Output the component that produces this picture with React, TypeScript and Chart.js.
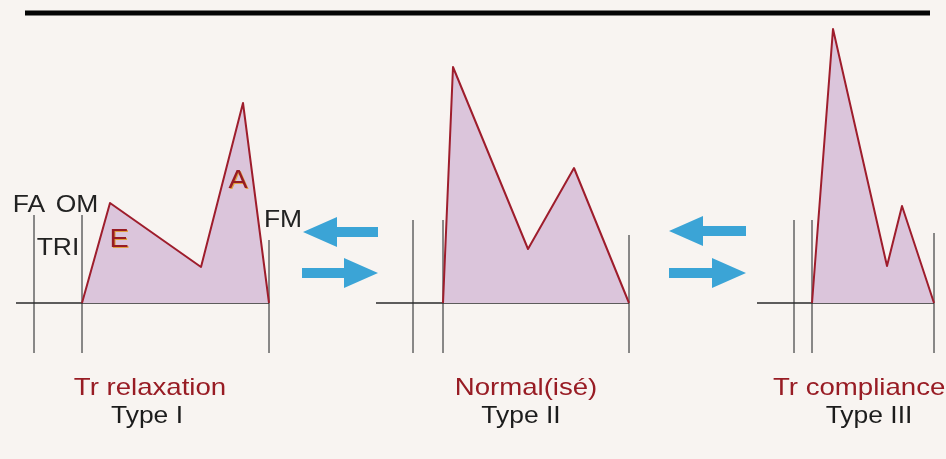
import React, { useEffect, useRef } from "react";
import { Chart, registerables } from "chart.js";

Chart.register(...registerables);

// ---- Data (time in arbitrary units, velocity in arbitrary units) ----
const TYPE1_T = [82, 110, 201, 243, 269];
const TYPE1_V = [0, 100, 36, 200, 0];
const TYPE2_T = [443, 453, 528, 574, 629];
const TYPE2_V = [0, 236, 54, 135, 0];
const TYPE3_T = [812, 833, 887, 902, 934];
const TYPE3_V = [0, 274, 37, 97, 0];

const BASELINE_START = [16, 376, 757];
const BASELINE_END = [269, 629, 934];

const MARKER_T = [34, 82, 269, 413, 443, 629, 794, 812, 934];
const MARKER_TOP = [88, 88, 63, 83, 83, 68, 83, 83, 70];
const MARKER_BOTTOM = -50;

const TOP_RULE_T = [25, 930];
const TOP_RULE_V = 290;

const PATTERN_NAMES = ["Tr relaxation", "Normal(isé)", "Tr compliance"];
const TYPE_NAMES = ["Type I", "Type II", "Type III"];
const EVENT_LABELS = ["FA", "OM", "TRI", "FM"];
const WAVE_LABELS = ["E", "A"];

// arrows: tail -> tip
const ARROW_TAIL = [378, 302, 746, 669];
const ARROW_TIP = [303, 378, 669, 746];
const ARROW_V = [71, 30, 72, 30];

// ---- Styling / layout config ----
const RED = "#981c24";
const CURVE = "#9e1d2c";
const FILL = "rgb(219,197,219)";
const BG = "#f8f4f1";
const ARROW = "#3ba4d6";
const FONT = '"Liberation Sans", Arial, Helvetica, sans-serif';
const STRETCH = 1.15;

const PATTERN_POS = [
  { x: 150, y: -92, align: "center" },
  { x: 526, y: -92, align: "center" },
  { x: 773, y: -92, align: "left" },
];
const TYPE_POS = [
  { x: 147, y: -120 },
  { x: 521, y: -120 },
  { x: 869, y: -120 },
];
const EVENT_POS = [
  { x: 29, y: 91 },
  { x: 77, y: 91 },
  { x: 58, y: 48 },
  { x: 283, y: 76 },
];
const WAVE_POS = [
  { x: 119, y: 56 },
  { x: 238, y: 115 },
];

const toPts = (t: number[], v: number[]) => t.map((x, i) => ({ x, y: v[i] }));

export default function App() {
  const ref = useRef<HTMLCanvasElement | null>(null);

  useEffect(() => {
    document.body.style.margin = "0";
    const canvas = ref.current;
    if (!canvas) return;

    const drawText = (
      ctx: CanvasRenderingContext2D,
      text: string,
      px: number,
      py: number,
      size: number,
      color: string,
      align: string
    ) => {
      ctx.save();
      ctx.font = `${size}px ${FONT}`;
      ctx.fillStyle = color;
      ctx.textBaseline = "alphabetic";
      ctx.translate(px, py);
      ctx.scale(STRETCH, 1);
      ctx.textAlign = align as CanvasTextAlign;
      ctx.fillText(text, 0, 0);
      ctx.restore();
    };

    const bgPlugin = {
      id: "bg",
      beforeDraw(chart: any) {
        const c = chart.ctx;
        c.save();
        c.fillStyle = BG;
        c.fillRect(0, 0, chart.width, chart.height);
        c.restore();
      },
    };

    const decorPlugin = {
      id: "decor",
      afterDatasetsDraw(chart: any) {
        const c: CanvasRenderingContext2D = chart.ctx;
        const xs = chart.scales.x;
        const ys = chart.scales.y;
        // arrows
        c.save();
        c.fillStyle = ARROW;
        ARROW_TAIL.forEach((tail, i) => {
          const tx = xs.getPixelForValue(tail);
          const hx = xs.getPixelForValue(ARROW_TIP[i]);
          const y = ys.getPixelForValue(ARROW_V[i]);
          const dir = Math.sign(hx - tx);
          const hb = hx - dir * 34;
          c.beginPath();
          c.moveTo(hx, y);
          c.lineTo(hb, y - 15);
          c.lineTo(hb, y - 5);
          c.lineTo(tx, y - 5);
          c.lineTo(tx, y + 5);
          c.lineTo(hb, y + 5);
          c.lineTo(hb, y + 15);
          c.closePath();
          c.fill();
        });
        c.restore();

        PATTERN_NAMES.forEach((t, i) => {
          const p = PATTERN_POS[i];
          drawText(c, t, xs.getPixelForValue(p.x), ys.getPixelForValue(p.y), 24, RED, p.align);
        });
        TYPE_NAMES.forEach((t, i) => {
          const p = TYPE_POS[i];
          drawText(c, t, xs.getPixelForValue(p.x), ys.getPixelForValue(p.y), 23, "#1c1c1c", "center");
        });
        EVENT_LABELS.forEach((t, i) => {
          const p = EVENT_POS[i];
          drawText(c, t, xs.getPixelForValue(p.x), ys.getPixelForValue(p.y), 23, "#222", "center");
        });
        WAVE_LABELS.forEach((t, i) => {
          const p = WAVE_POS[i];
          const px = xs.getPixelForValue(p.x);
          const py = ys.getPixelForValue(p.y);
          drawText(c, t, px + 1, py + 1, 25, "#e0a040", "center");
          drawText(c, t, px, py, 25, RED, "center");
        });
      },
    };

    const curve = (t: number[], v: number[]) => ({
      data: toPts(t, v),
      borderColor: CURVE,
      backgroundColor: FILL,
      borderWidth: 2,
      borderJoinStyle: "round" as const,
      fill: "origin",
      pointRadius: 0,
      tension: 0,
      order: 0,
    });

    const datasets: any[] = [
      curve(TYPE1_T, TYPE1_V),
      curve(TYPE2_T, TYPE2_V),
      curve(TYPE3_T, TYPE3_V),
      {
        data: toPts(TOP_RULE_T, [TOP_RULE_V, TOP_RULE_V]),
        borderColor: "#050505",
        borderWidth: 5,
        pointRadius: 0,
        fill: false,
        order: 0,
      },
      ...BASELINE_START.map((s, i) => ({
        data: toPts([s, BASELINE_END[i]], [0, 0]),
        borderColor: "#2a2a2a",
        borderWidth: 1.6,
        pointRadius: 0,
        fill: false,
        order: 1,
      })),
      ...MARKER_T.map((m, i) => ({
        data: toPts([m, m], [MARKER_TOP[i], MARKER_BOTTOM]),
        borderColor: "rgba(110,110,110,0.85)",
        borderWidth: 1,
        pointRadius: 0,
        fill: false,
        order: 2,
      })),
    ];

    const chart = new Chart(canvas, {
      type: "line",
      data: { datasets },
      options: {
        animation: false,
        responsive: false,
        maintainAspectRatio: false,
        layout: { padding: 0 },
        parsing: true,
        events: [],
        scales: {
          x: { type: "linear", min: 0, max: 946, display: false },
          y: { type: "linear", min: -156, max: 303, display: false },
        },
        plugins: {
          legend: { display: false },
          tooltip: { enabled: false },
          title: { display: false },
        },
      },
      plugins: [bgPlugin, decorPlugin],
    });

    return () => chart.destroy();
  }, []);

  return (
    <div style={{ position: "fixed", left: 0, top: 0, width: 946, height: 459, background: BG }}>
      <canvas ref={ref} width={946} height={459} style={{ display: "block", width: 946, height: 459 }} />
    </div>
  );
}
